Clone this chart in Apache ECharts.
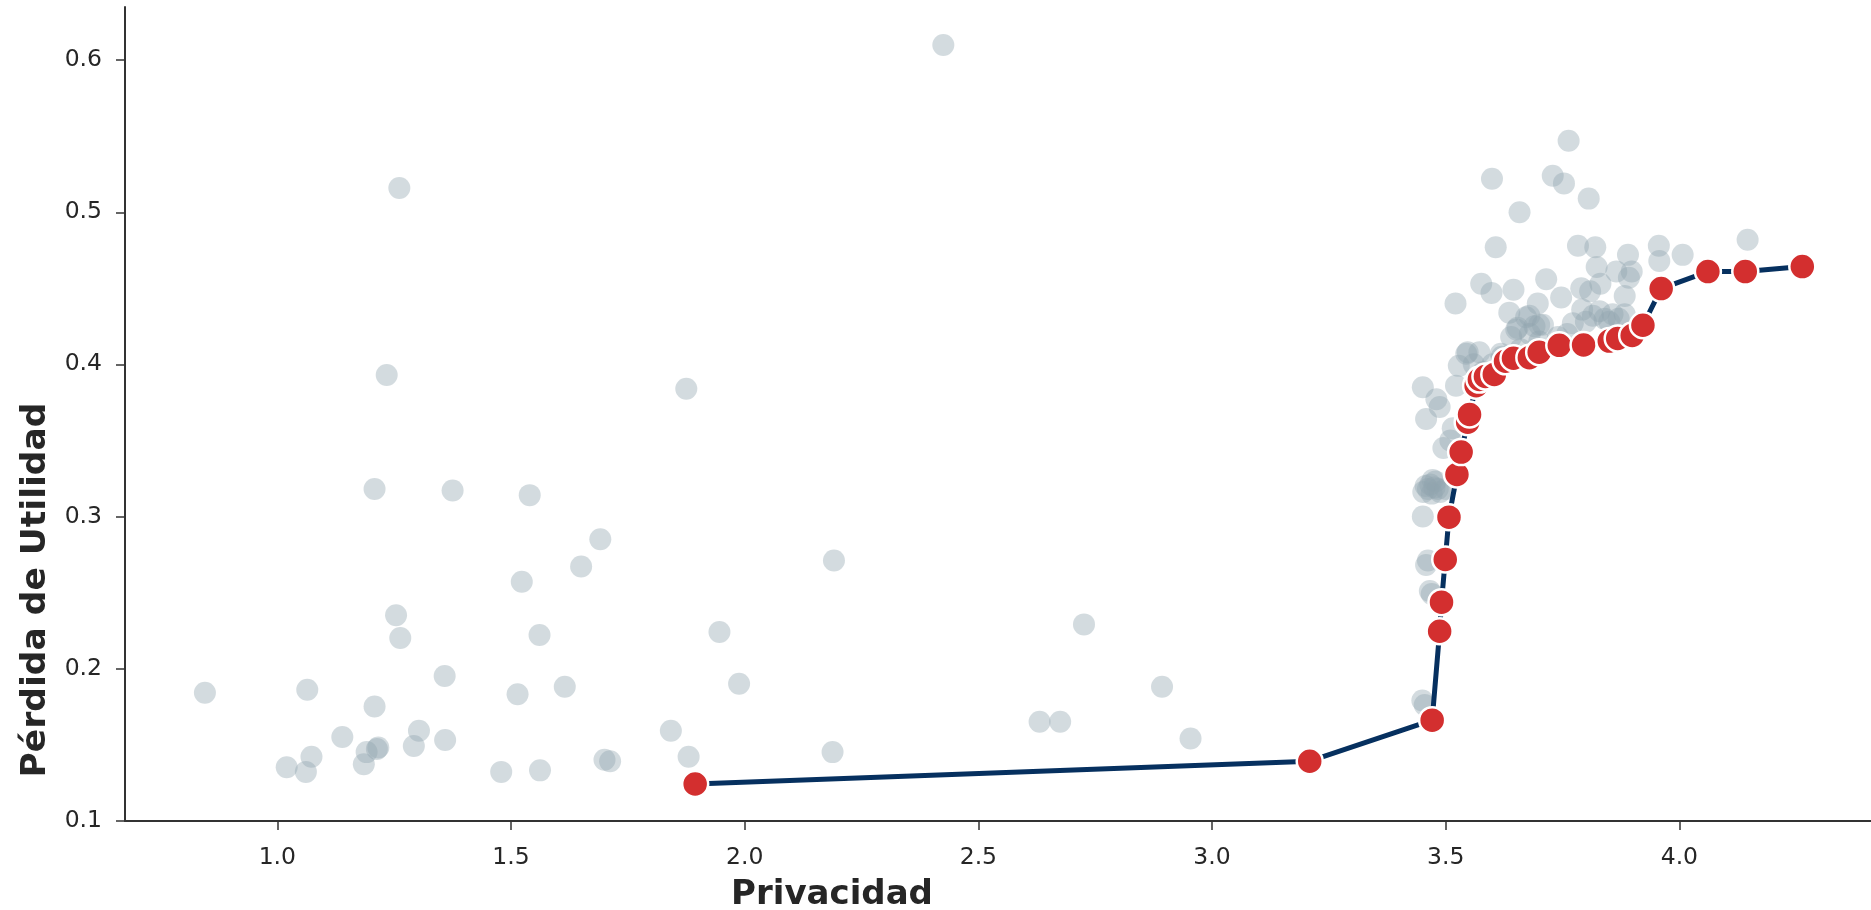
<!DOCTYPE html>
<html>
<head>
<meta charset="utf-8">
<script src="https://cdn.jsdelivr.net/npm/echarts@6/dist/echarts.min.js"></script>
<style>
html,body{margin:0;padding:0;background:#fff;}
#chart{width:1871px;height:910px;}
</style>
</head>
<body>
<div id="chart"></div>
<script>
// All configurations (grey cloud)
const privacyAll = [
  0.845,1.064,1.073,1.020,1.061,1.139,1.185,1.191,1.208,1.208,1.213,1.216,1.234,1.254,1.261,1.263,1.292,1.303,1.358,1.359,
  1.375,1.479,1.514,1.523,1.540,1.561,1.562,1.615,1.650,1.691,1.700,1.712,1.842,1.875,1.880,1.946,1.988,2.188,2.191,2.425,
  2.631,2.675,2.726,2.893,2.954,
  3.450,3.455,3.462,3.458,3.466,3.470,3.451,3.452,3.457,3.462,3.467,3.472,3.478,3.483,3.488,3.470,3.476,3.500,
  3.451,3.458,3.487,3.522,3.528,3.510,3.515,3.495,3.480,3.521,3.544,3.547,3.572,3.560,3.576,3.598,3.599,3.607,3.618,
  3.636,3.645,3.651,3.654,3.658,3.672,3.679,3.690,3.697,3.700,3.708,3.715,3.729,3.747,3.753,3.763,3.772,3.783,3.790,
  3.792,3.800,3.806,3.809,3.815,3.820,3.823,3.829,3.831,3.840,3.850,3.857,3.865,3.870,3.883,3.883,3.890,3.892,3.898,
  3.956,3.957,4.007,4.146,
  3.580,3.600,3.620,3.660,3.700,3.740,3.760,3.640,3.680
];
const lossAll = [
  0.184,0.186,0.142,0.135,0.132,0.155,0.137,0.145,0.175,0.318,0.147,0.148,0.393,0.235,0.516,0.220,0.149,0.159,0.195,0.153,
  0.317,0.132,0.183,0.257,0.314,0.222,0.133,0.188,0.267,0.285,0.140,0.139,0.159,0.384,0.142,0.224,0.190,0.145,0.271,0.610,
  0.165,0.165,0.229,0.188,0.154,
  0.179,0.176,0.271,0.268,0.251,0.249,0.300,0.316,0.320,0.318,0.321,0.324,0.323,0.318,0.316,0.315,0.319,0.318,
  0.385,0.364,0.372,0.386,0.399,0.350,0.358,0.345,0.377,0.440,0.407,0.408,0.408,0.400,0.453,0.447,0.522,0.477,0.407,
  0.434,0.449,0.423,0.424,0.500,0.431,0.432,0.425,0.440,0.426,0.426,0.456,0.524,0.444,0.519,0.547,0.427,0.478,0.450,
  0.436,0.428,0.509,0.448,0.432,0.477,0.464,0.435,0.453,0.430,0.428,0.433,0.461,0.430,0.433,0.445,0.472,0.457,0.461,
  0.478,0.468,0.472,0.482,
  0.395,0.400,0.405,0.410,0.415,0.418,0.420,0.418,0.420
];
// Pareto frontier (red points + navy line)
const privacyFront = [1.894,3.209,3.471,3.487,3.491,3.499,3.507,3.524,3.533,3.547,3.551,3.565,3.572,3.585,3.604,3.628,3.645,3.679,3.700,3.743,3.795,3.850,3.868,3.899,3.922,3.961,4.061,4.141,4.263];
const lossFront    = [0.124,0.139,0.166,0.2245,0.2436,0.2717,0.2995,0.3276,0.3423,0.362,0.367,0.386,0.390,0.392,0.3934,0.402,0.404,0.4044,0.408,0.4125,0.4127,0.4153,0.417,0.419,0.4257,0.4498,0.461,0.461,0.4643];
const xTicks = [1.0,1.5,2.0,2.5,3.0,3.5,4.0];
const yTicks = [0.1,0.2,0.3,0.4,0.5,0.6];
const xTitle = 'Privacidad';
const yTitle = 'Pérdida de Utilidad';

const cloud = privacyAll.map((x,i)=>[x, lossAll[i]]);
const front = privacyFront.map((x,i)=>[x, lossFront[i]]);

const axisColor = '#333333';
const textColor = '#262626';
const chart = echarts.init(document.getElementById('chart'), null, {renderer:'canvas'});
chart.setOption({
  animation:false,
  backgroundColor:'#ffffff',
  grid:{left:125, right:0, top:7, bottom:89, containLabel:false, outerBoundsMode:'none'},
  xAxis:{
    type:'value', min:0.674, max:4.410,
    name:xTitle, nameLocation:'middle', nameGap:57,
    nameTextStyle:{fontFamily:'DejaVu Sans', fontWeight:'bold', fontSize:34, color:textColor, padding:[0,332,0,0]},
    axisLine:{show:true, onZero:false, lineStyle:{color:axisColor, width:2}},
    axisTick:{show:true, length:9, lineStyle:{color:axisColor, width:1.5}, customValues:xTicks},
    axisLabel:{fontFamily:'DejaVu Sans', fontSize:23.5, color:textColor, margin:25, customValues:xTicks,
      formatter:v=>v.toFixed(1)},
    splitLine:{show:false}
  },
  yAxis:{
    type:'value', min:0.0997, max:0.635,
    name:yTitle, nameLocation:'middle', nameGap:70, nameRotate:90,
    nameTextStyle:{fontFamily:'DejaVu Sans', fontWeight:'bold', fontSize:34.5, color:textColor, padding:[0,352,0,0]},
    axisLine:{show:true, onZero:false, lineStyle:{color:axisColor, width:2}},
    axisTick:{show:true, length:9, lineStyle:{color:axisColor, width:1.5}, customValues:yTicks},
    axisLabel:{fontFamily:'DejaVu Sans', fontSize:23.5, color:textColor, margin:23, customValues:yTicks,
      formatter:v=>v.toFixed(1)},
    splitLine:{show:false}
  },
  series:[
    {
      type:'scatter', data:cloud, symbol:'circle', symbolSize:22, z:2,
      itemStyle:{color:'#90a4ae', opacity:0.4},
      emphasis:{disabled:true}
    },
    {
      type:'line', data:front, symbol:'circle', symbolSize:26, showSymbol:true, z:5,
      lineStyle:{color:'#06305f', width:5},
      itemStyle:{color:'#d32f2f', borderColor:'#ffffff', borderWidth:2.5, opacity:1},
      emphasis:{disabled:true}
    }
  ]
});
</script>
</body>
</html>
